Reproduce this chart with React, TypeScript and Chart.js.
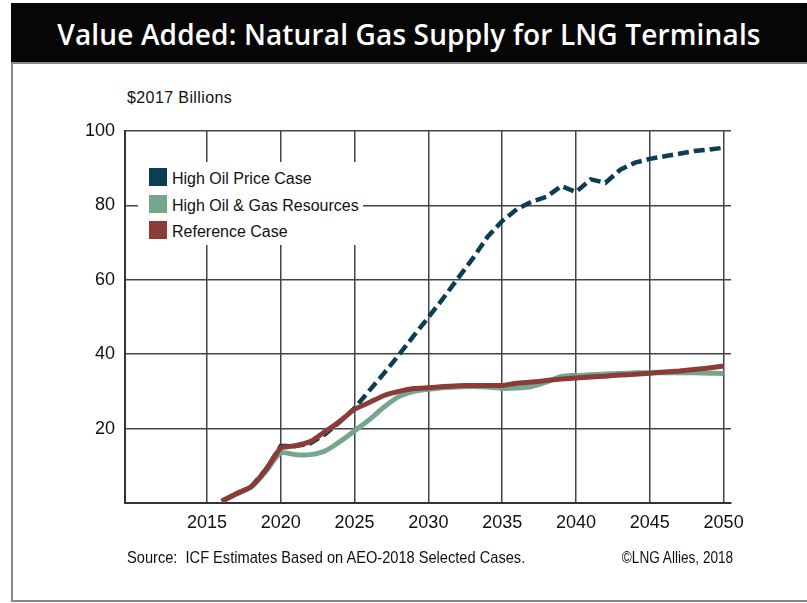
import React, { useEffect, useRef } from "react";
import { Chart, registerables } from "chart.js";

Chart.register(...registerables);

const years = [
  2016, 2017, 2018, 2019, 2020, 2021, 2022, 2023, 2024, 2025,
  2026, 2027, 2028, 2029, 2030, 2031, 2032, 2033, 2034, 2035,
  2036, 2037, 2038, 2039, 2040, 2041, 2042, 2043, 2044, 2045,
  2046, 2047, 2048, 2049, 2050,
];

const highOilPrice = [
  0.5, 2.5, 4.4, 9.0, 15.3, 15.3, 16.0, 18.5, 21.8, 25.5,
  30.2, 34.9, 39.8, 44.9, 49.9, 55.0, 60.4, 65.7, 71.5, 75.8,
  79.0, 81.0, 82.3, 85.2, 83.6, 87.0, 86.1, 89.6, 91.5, 92.5,
  93.2, 93.9, 94.6, 95.0, 95.5,
];

const highOilGas = [
  0.5, 2.5, 4.3, 8.5, 13.4, 13.0, 13.0, 14.0, 16.5, 19.4,
  22.4, 25.8, 28.6, 30.0, 30.6, 31.0, 31.2, 31.3, 31.2, 30.8,
  30.9, 31.3, 32.5, 34.0, 34.3, 34.5, 34.7, 34.8, 35.0, 35.0,
  35.0, 35.0, 35.0, 34.9, 34.8,
];

const referenceCase = [
  0.5, 2.5, 4.4, 9.0, 14.8, 15.4, 16.5, 19.2, 22.0, 25.2,
  27.0, 28.9, 30.0, 30.8, 31.0, 31.3, 31.5, 31.6, 31.6, 31.6,
  32.2, 32.5, 32.9, 33.3, 33.6, 33.9, 34.1, 34.4, 34.6, 34.9,
  35.2, 35.5, 35.9, 36.3, 36.8,
];

const xTicks = [2015, 2020, 2025, 2030, 2035, 2040, 2045, 2050];
const yTicks = [20, 40, 60, 80, 100];

const seriesNames = ["High Oil Price Case", "High Oil & Gas Resources", "Reference Case"];
const seriesColors = ["#0b3e53", "#76a68e", "#8b3c36"];

const FONT = "'Liberation Sans', Arial, sans-serif";

export default function App() {
  const canvasRef = useRef<HTMLCanvasElement | null>(null);

  useEffect(() => {
    const canvas = canvasRef.current;
    if (!canvas) return;
    const toPts = (vals: number[]) => years.map((x, i) => ({ x, y: vals[i] }));
    const chart = new Chart(canvas, {
      type: "line",
      data: {
        datasets: [
          {
            label: seriesNames[2],
            data: toPts(referenceCase),
            borderColor: seriesColors[2],
            borderWidth: 5,
            pointRadius: 0,
            tension: 0.15,
            order: 0,
          },
          {
            label: seriesNames[0],
            data: toPts(highOilPrice),
            borderColor: seriesColors[0],
            borderWidth: 4.5,
            borderDash: [11, 5],
            pointRadius: 0,
            tension: 0,
            order: 1,
          },
          {
            label: seriesNames[1],
            data: toPts(highOilGas),
            borderColor: seriesColors[1],
            borderWidth: 5,
            pointRadius: 0,
            tension: 0.3,
            order: 2,
          },
        ],
      },
      options: {
        animation: false,
        responsive: false,
        events: [],
        layout: { padding: { left: 0, top: 131, right: 76, bottom: 60 } },
        plugins: { legend: { display: false }, tooltip: { enabled: false } },
        scales: {
          x: {
            type: "linear",
            min: 2009.45,
            max: 2050.5,
            afterFit: (s: any) => {
              s.height = 40;
            },
            afterBuildTicks: (s: any) => {
              s.ticks = xTicks.map((v) => ({ value: v }));
            },
            ticks: {
              padding: 9,
              color: "#111",
              font: { family: FONT, size: 18 },
              maxRotation: 0,
              autoSkip: false,
              callback: (v: any) => String(v),
            },
            grid: { color: "#444", lineWidth: 1.5, drawTicks: false },
            border: { color: "#333", width: 2 },
          },
          y: {
            type: "linear",
            min: 0,
            max: 100,
            afterFit: (s: any) => {
              s.width = 125;
            },
            afterBuildTicks: (s: any) => {
              s.ticks = [0, ...yTicks].map((v) => ({ value: v }));
            },
            ticks: {
              padding: 10,
              color: "#111",
              font: { family: FONT, size: 18 },
              callback: (v: any) => (v === 0 ? "" : String(v)),
            },
            grid: { color: "#444", lineWidth: 1.5, drawTicks: false },
            border: { color: "#333", width: 2 },
          },
        },
      },
    });
    return () => chart.destroy();
  }, []);

  const legendTops = [168, 195, 221];

  return (
    <div
      style={{
        position: "absolute",
        left: 0,
        top: 0,
        width: 807,
        height: 603,
        background: "#fff",
        overflow: "hidden",
        fontFamily: FONT,
      }}
    >
      <div
        style={{
          position: "absolute",
          left: 11,
          top: 3,
          width: 796,
          height: 59,
          background: "#060606",
        }}
      />
      <div
        style={{
          position: "absolute",
          left: 11,
          top: 20,
          width: 796,
          textAlign: "center",
          color: "#fff",
          fontFamily: "'Open Sans', sans-serif",
          fontWeight: 600,
          fontSize: 28,
          letterSpacing: 0.15,
          lineHeight: 1,
          whiteSpace: "nowrap",
        }}
      >
        Value Added: Natural Gas Supply for LNG Terminals
      </div>
      <div style={{ position: "absolute", left: 11, top: 62, width: 796, height: 1.5, background: "#888" }} />
      <div style={{ position: "absolute", left: 11, top: 62, width: 1.5, height: 539, background: "#888" }} />
      <div style={{ position: "absolute", left: 11, top: 600, width: 796, height: 1.5, background: "#888" }} />
      <div
        style={{
          position: "absolute",
          left: 127,
          top: 90,
          fontSize: 16,
          lineHeight: 1,
          color: "#111",
          whiteSpace: "nowrap",
          letterSpacing: 0.4,
        }}
      >
        $2017 Billions
      </div>
      <canvas
        ref={canvasRef}
        width={807}
        height={603}
        style={{ position: "absolute", left: 0, top: 0, width: 807, height: 603 }}
      />
      <div
        style={{
          position: "absolute",
          left: 138,
          top: 162,
          width: 225,
          height: 83,
          background: "#fff",
        }}
      />
      {seriesNames.map((name, i) => (
        <React.Fragment key={name}>
          <div
            style={{
              position: "absolute",
              left: 149,
              top: legendTops[i],
              width: 18,
              height: 18,
              background: seriesColors[i],
            }}
          />
          <div
            style={{
              position: "absolute",
              left: 172,
              top: legendTops[i] + 3,
              fontSize: 16,
              lineHeight: 1,
              color: "#111",
              whiteSpace: "nowrap",
            }}
          >
            {name}
          </div>
        </React.Fragment>
      ))}
      <div
        style={{
          position: "absolute",
          left: 127,
          top: 549,
          fontSize: 17,
          lineHeight: 1,
          color: "#111",
          whiteSpace: "pre",
          transform: "scaleX(0.86)",
          transformOrigin: "0 0",
        }}
      >
        {"Source:  ICF Estimates Based on AEO-2018 Selected Cases."}
      </div>
      <div
        style={{
          position: "absolute",
          right: 807 - 733,
          top: 549,
          fontSize: 17,
          lineHeight: 1,
          color: "#111",
          whiteSpace: "nowrap",
          transform: "scaleX(0.8)",
          transformOrigin: "100% 0",
        }}
      >
        ©LNG Allies, 2018
      </div>
    </div>
  );
}
